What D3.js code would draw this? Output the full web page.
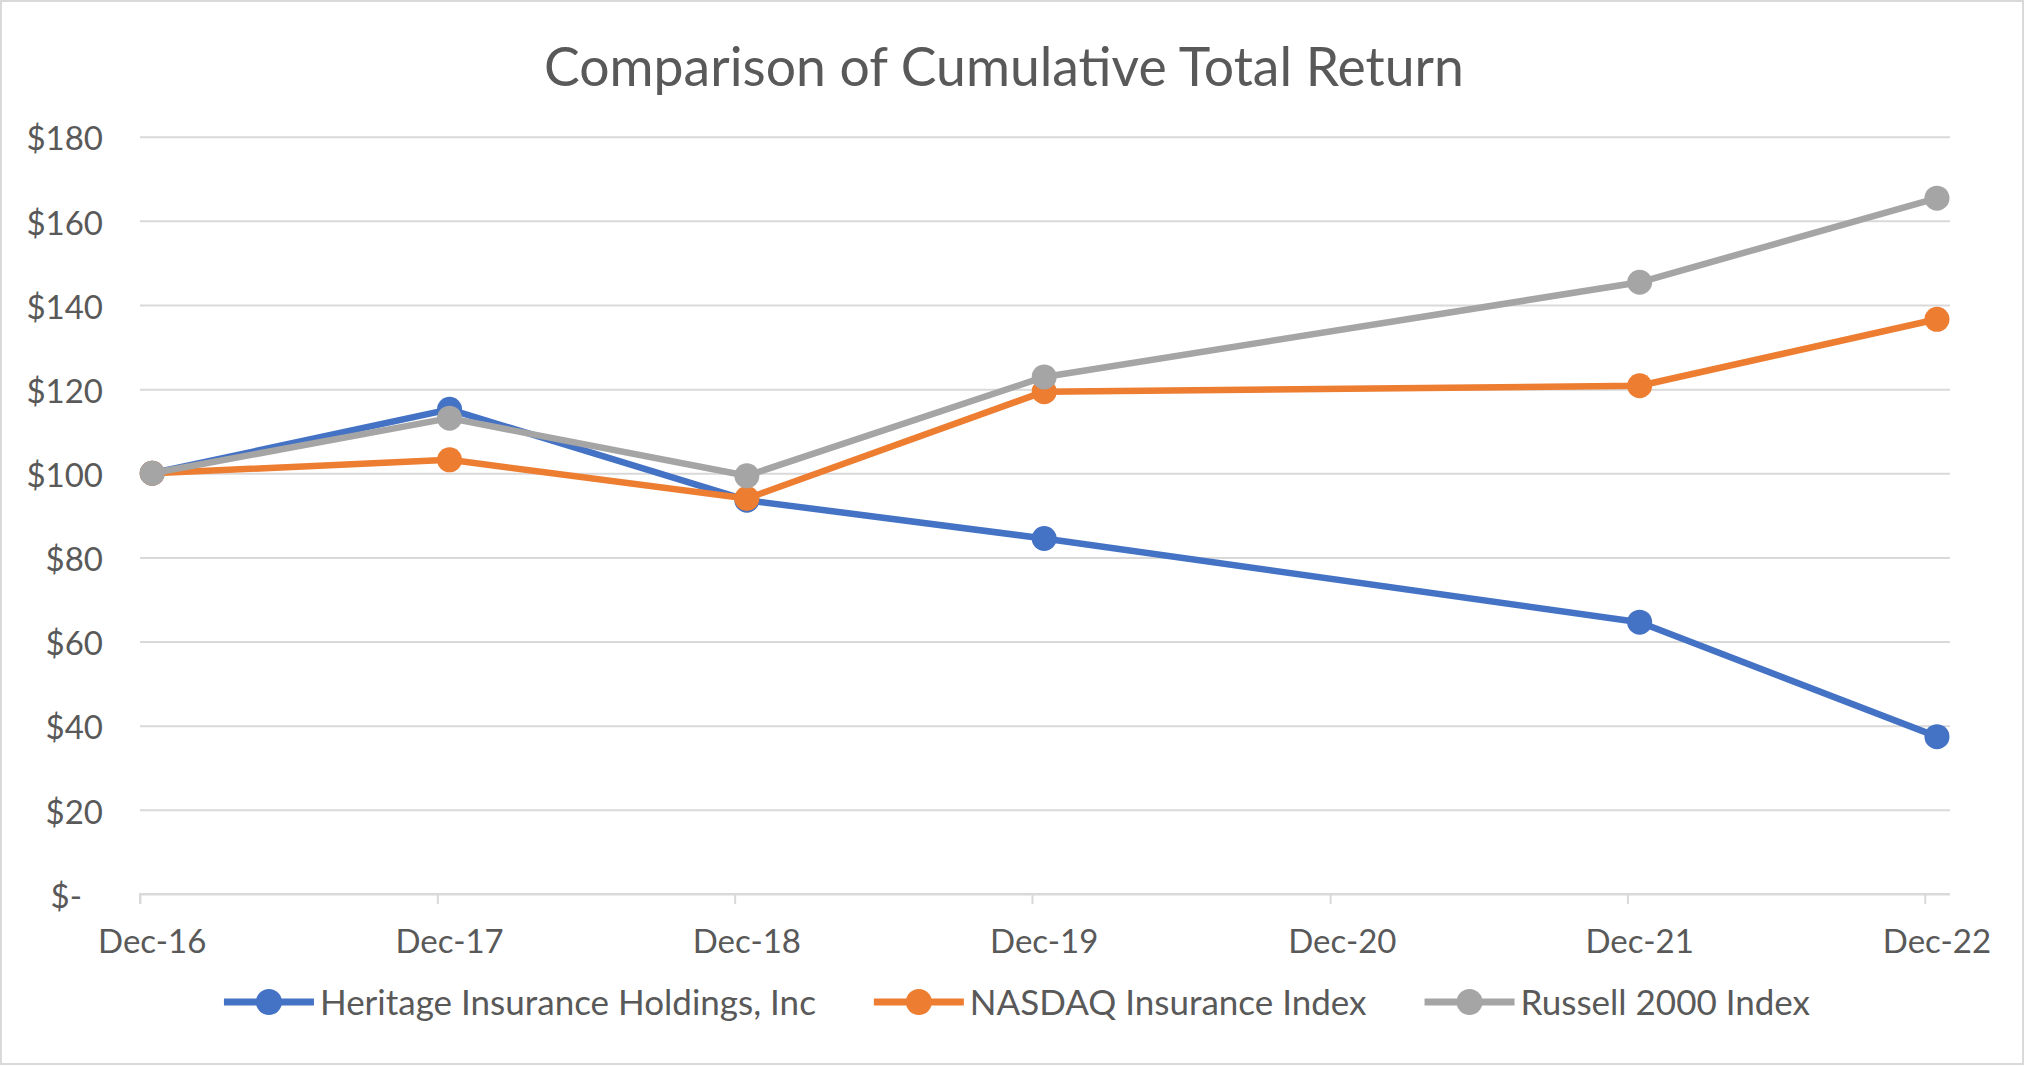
<!DOCTYPE html>
<html>
<head>
<meta charset="utf-8">
<script src="https://cdn.jsdelivr.net/npm/d3@7"></script>
<style>
  html, body { margin: 0; padding: 0; background: #fff; }
  svg { display: block; }
  text { font-family: Lato, "Open Sans", sans-serif; fill: #595959; }
</style>
</head>
<body>
<svg id="chart" width="2025" height="1066"></svg>
<script>
// ---- data ----
const title = "Comparison of Cumulative Total Return";
const dates = ["2016-12-16", "2017-12-16", "2018-12-16", "2019-12-16", "2021-12-16", "2022-12-16"];
const seriesNames = ["Heritage Insurance Holdings, Inc", "NASDAQ Insurance Index", "Russell 2000 Index"];
const heritage = [100, 115.2, 93.6, 84.5, 64.6, 37.4];
const nasdaq = [100, 103.2, 94.0, 119.4, 120.8, 136.6];
const russell = [100, 113.1, 99.4, 122.9, 145.4, 165.4];
const yTicks = [0, 20, 40, 60, 80, 100, 120, 140, 160, 180];
const xTickDates = ["2016-12-01", "2017-12-01", "2018-12-01", "2019-12-01", "2020-12-01", "2021-12-01", "2022-12-01"];
const colors = ["#4472C4", "#ED7D31", "#A5A5A5"];

// ---- layout ----
(function () {
const W = 2025, H = 1066;
const pLeft = 140, pRight = 1950, pTop = 136.7, pBottom = 894;
const parse = d3.timeParse("%Y-%m-%d");

const svg = d3.select("#chart");
svg.append("rect").attr("x", 1).attr("y", 1).attr("width", W - 3).attr("height", H - 3)
  .attr("fill", "#fff").attr("stroke", "#d9d9d9").attr("stroke-width", 2);

const x = d3.scaleTime()
  .domain([parse("2016-12-01"), parse("2023-01-01")])
  .range([pLeft, pRight]);
const y = d3.scaleLinear().domain([0, 180]).range([pBottom, pTop]);

// title
svg.append("text").attr("x", 1004).attr("y", 86)
  .attr("text-anchor", "middle").style("font-size", "53.5px").text(title);

// gridlines + y labels
const yAxis = d3.axisLeft(y).tickValues(yTicks)
  .tickSize(-(pRight - pLeft)).tickPadding(37)
  .tickFormat(d => d === 0 ? "$-" : "$" + d);
const gy = svg.append("g").attr("transform", `translate(${pLeft},0)`).call(yAxis);
gy.select(".domain").remove();
gy.selectAll(".tick line").attr("stroke", "#d9d9d9").attr("stroke-width", 2);
gy.selectAll(".tick text").style("font-size", "33px").attr("fill", "#595959").attr("dy", "0.4em")
  .attr("dx", d => d === 0 ? -21 : 0);

// x axis
const xAxis = d3.axisBottom(x).tickValues(xTickDates.map(parse))
  .tickSize(10).tickFormat("");
const gx = svg.append("g").attr("transform", `translate(0,${pBottom})`).call(xAxis);
gx.select(".domain").attr("stroke", "#d9d9d9").attr("stroke-width", 2).attr("d", `M${pLeft},10V0H${pRight}`);
gx.selectAll(".tick line").attr("stroke", "#d9d9d9").attr("stroke-width", 2);
// labels centered at mid-month
svg.append("g").selectAll("text").data(xTickDates.map(parse)).join("text")
  .attr("x", d => x(d3.timeDay.offset(d, 15)))
  .attr("y", 953)
  .attr("text-anchor", "middle").style("font-size", "33px")
  .text(d => d3.timeFormat("%b-%y")(d));

// series
const allSeries = [heritage, nasdaq, russell];
const line = d3.line().x(d => x(d.date)).y(d => y(d.v));
allSeries.forEach((vals, i) => {
  const pts = vals.map((v, j) => ({ date: parse(dates[j]), v }));
  const g = svg.append("g");
  g.append("path").datum(pts).attr("d", line).attr("fill", "none")
    .attr("stroke", colors[i]).attr("stroke-width", 6.5).attr("stroke-linejoin", "round").attr("stroke-linecap", "round");
  g.selectAll("circle").data(pts).join("circle")
    .attr("cx", d => x(d.date)).attr("cy", d => y(d.v)).attr("r", 12.5).attr("fill", colors[i]);
});

// legend
const lg = svg.append("g");
const legY = 1002;
const items = seriesNames.map((n, i) => {
  const g = lg.append("g");
  g.append("line").attr("x1", 0).attr("x2", 90).attr("y1", legY).attr("y2", legY)
    .attr("stroke", colors[i]).attr("stroke-width", 7);
  g.append("circle").attr("cx", 45).attr("cy", legY).attr("r", 13).attr("fill", colors[i]);
  const t = g.append("text").attr("x", 96).attr("y", legY).attr("dy", "0.36em")
    .style("font-size", "35px").text(n);
  return { g, w: 96 + t.node().getComputedTextLength() };
});
const gap = 58;
const total = d3.sum(items, d => d.w) + gap * (items.length - 1);
let cx = 1017 - total / 2;
items.forEach(it => { it.g.attr("transform", `translate(${cx},0)`); cx += it.w + gap; });
})();
</script>
</body>
</html>
